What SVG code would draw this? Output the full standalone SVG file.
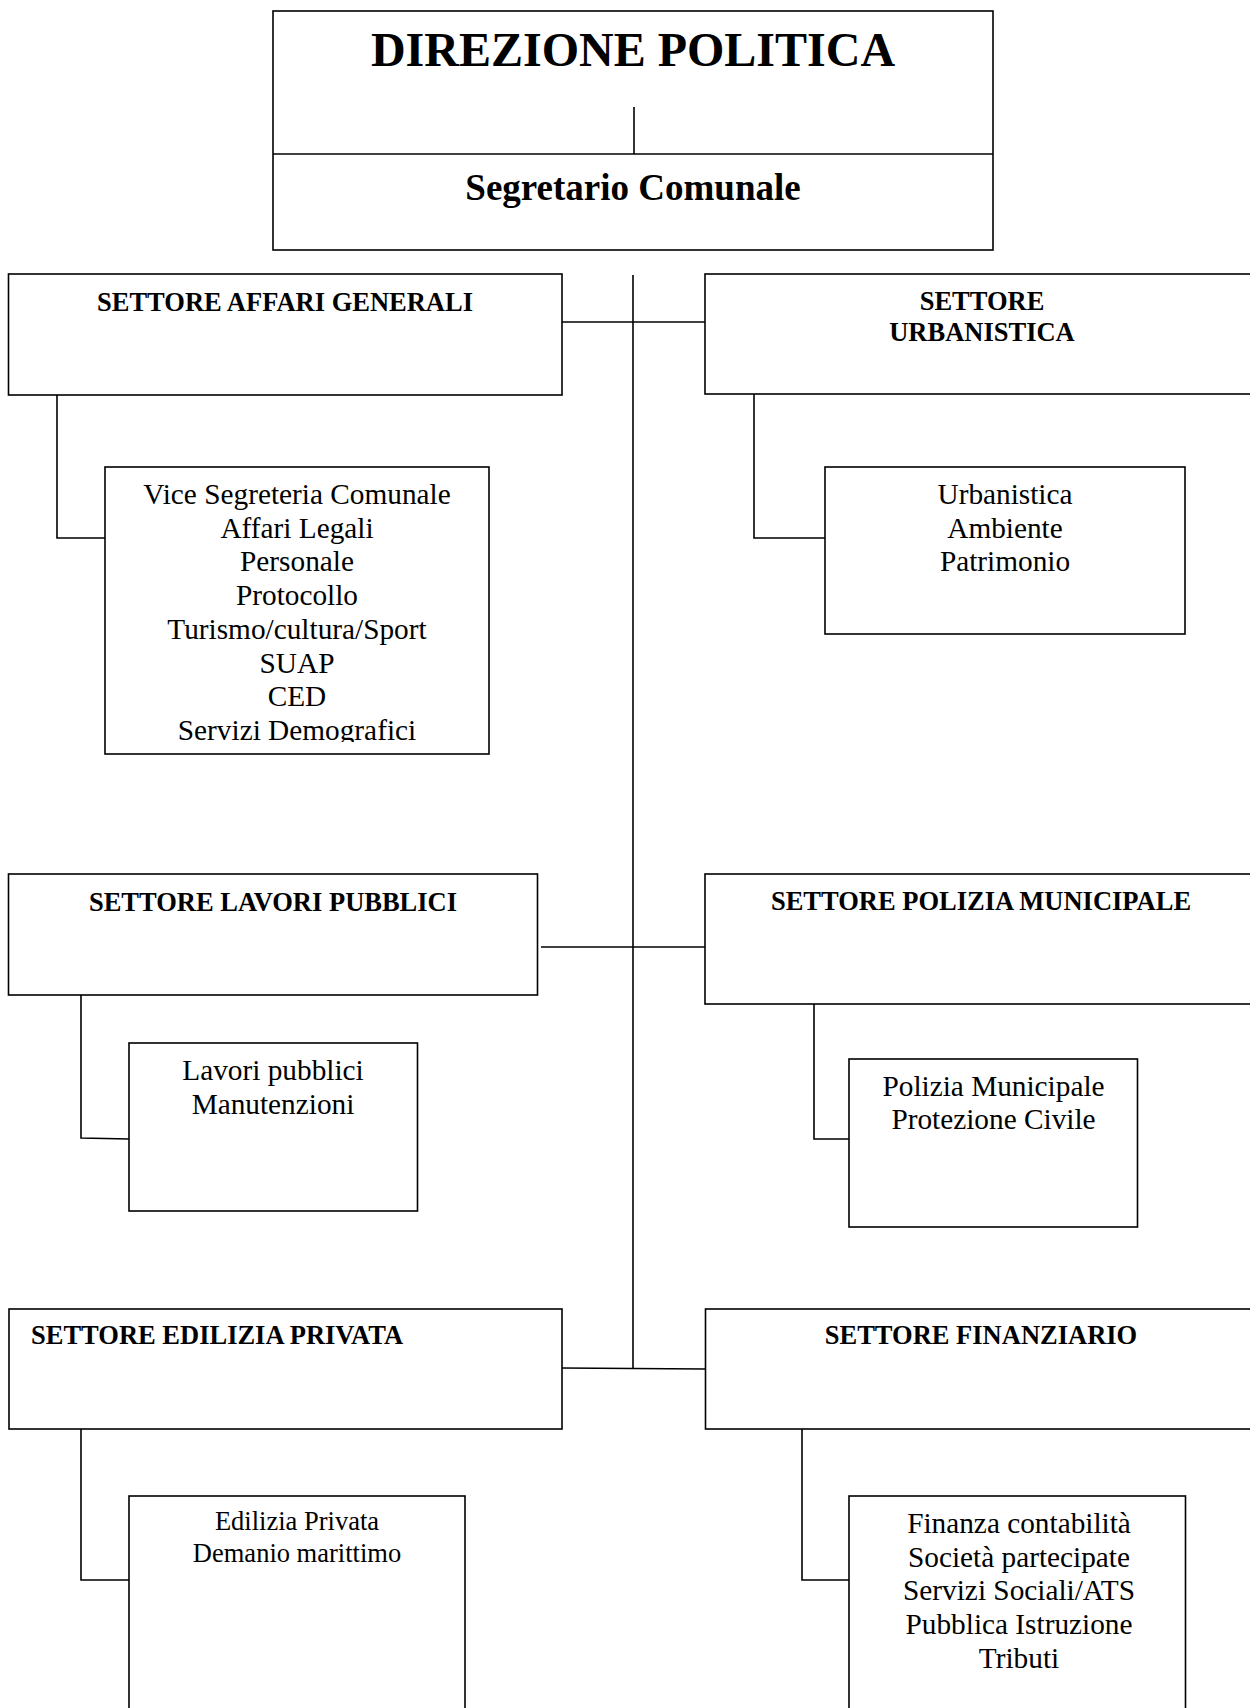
<svg xmlns="http://www.w3.org/2000/svg" width="1250" height="1708" viewBox="0 0 1250 1708">
<style>
.box{fill:#fff;stroke:#000;stroke-width:1.6}
.ln{fill:none;stroke:#000;stroke-width:1.6}
text{font-family:"Liberation Serif","Times New Roman",serif;fill:#000}
.t{font-weight:bold;font-size:26.5px}
.c{font-size:29.3px;text-anchor:middle}
.m{text-anchor:middle}
</style>
<defs>
<clipPath id="clipAG"><rect x="105" y="467" width="384" height="275"/></clipPath>
</defs>
<rect width="1250" height="1708" fill="#fff"/>
<g id="direzione">
<rect class="box" x="273" y="11" width="720" height="239"/>
<line class="ln" x1="273" y1="154" x2="993" y2="154"/>
<text class="m" x="633" y="66" font-weight="bold" font-size="48">DIREZIONE POLITICA</text>
<text class="m" x="633" y="200" font-weight="bold" font-size="37">Segretario Comunale</text>
</g>
<g id="affari-generali">
<rect class="box" x="8.5" y="274" width="553.5" height="121"/>
<text class="t m" x="285" y="311">SETTORE AFFARI GENERALI</text>
</g>
<g id="affari-generali-servizi">
<rect class="box" x="105" y="467" width="384" height="287"/>
<g clip-path="url(#clipAG)">
<text class="c" x="297" y="504">Vice Segreteria Comunale</text>
<text class="c" x="297" y="537.7">Affari Legali</text>
<text class="c" x="297" y="571.4">Personale</text>
<text class="c" x="297" y="605.1">Protocollo</text>
<text class="c" x="297" y="638.8">Turismo/cultura/Sport</text>
<text class="c" x="297" y="672.5">SUAP</text>
<text class="c" x="297" y="706.2">CED</text>
<text class="c" x="297" y="740">Servizi Demografici</text>
</g>
</g>
<g id="urbanistica">
<rect class="box" x="705" y="274" width="555" height="120"/>
<text class="t m" x="982" y="310">SETTORE</text>
<text class="t m" x="982" y="341">URBANISTICA</text>
</g>
<g id="urbanistica-servizi">
<rect class="box" x="825" y="467" width="360" height="167"/>
<text class="c" x="1005" y="504">Urbanistica</text>
<text class="c" x="1005" y="537.7">Ambiente</text>
<text class="c" x="1005" y="571.4">Patrimonio</text>
</g>
<g id="lavori-pubblici">
<rect class="box" x="8.5" y="874" width="529" height="121"/>
<text class="t m" x="273" y="911">SETTORE LAVORI PUBBLICI</text>
</g>
<g id="lavori-pubblici-servizi">
<rect class="box" x="129" y="1043" width="288.5" height="168"/>
<text class="c" x="273" y="1080">Lavori pubblici</text>
<text class="c" x="273" y="1113.7">Manutenzioni</text>
</g>
<g id="polizia-municipale">
<rect class="box" x="705" y="874" width="555" height="130"/>
<text class="t m" x="981" y="910">SETTORE POLIZIA MUNICIPALE</text>
</g>
<g id="polizia-municipale-servizi">
<rect class="box" x="849" y="1059" width="288.5" height="168"/>
<text class="c" x="993.5" y="1095.5">Polizia Municipale</text>
<text class="c" x="993.5" y="1129.2">Protezione Civile</text>
</g>
<g id="edilizia-privata">
<rect class="box" x="9" y="1309" width="553" height="120"/>
<text class="t" x="31" y="1344">SETTORE EDILIZIA PRIVATA</text>
</g>
<g id="edilizia-privata-servizi">
<rect class="box" x="129" y="1496" width="336" height="230"/>
<text class="m" x="297" y="1530" font-size="26.5">Edilizia Privata</text>
<text class="m" x="297" y="1561.6" font-size="26.5">Demanio marittimo</text>
</g>
<g id="finanziario">
<rect class="box" x="705.5" y="1309" width="555" height="120"/>
<text class="t m" x="981" y="1344">SETTORE FINANZIARIO</text>
</g>
<g id="finanziario-servizi">
<rect class="box" x="849" y="1496" width="336.5" height="230"/>
<text class="c" x="1019" y="1533">Finanza contabilità</text>
<text class="c" x="1019" y="1566.7">Società partecipate</text>
<text class="c" x="1019" y="1600.4">Servizi Sociali/ATS</text>
<text class="c" x="1019" y="1634.1">Pubblica Istruzione</text>
<text class="c" x="1019" y="1667.8">Tributi</text>
</g>
<g id="connectors">
<line class="ln" x1="634" y1="107" x2="634" y2="154"/>
<line class="ln" x1="633" y1="275" x2="633" y2="1369"/>
<line class="ln" x1="562" y1="322" x2="705" y2="322"/>
<line class="ln" x1="541" y1="947" x2="705" y2="947"/>
<line class="ln" x1="562" y1="1368" x2="705" y2="1369"/>
<polyline class="ln" points="57,395 57,538 105,538"/>
<polyline class="ln" points="754,394 754,538 825,538"/>
<polyline class="ln" points="81,995 81,1138 129,1139"/>
<polyline class="ln" points="814,1004 814,1139 849,1139"/>
<polyline class="ln" points="81,1429 81,1580 129,1580"/>
<polyline class="ln" points="802,1429 802,1580 849,1580"/>
</g>
</svg>
